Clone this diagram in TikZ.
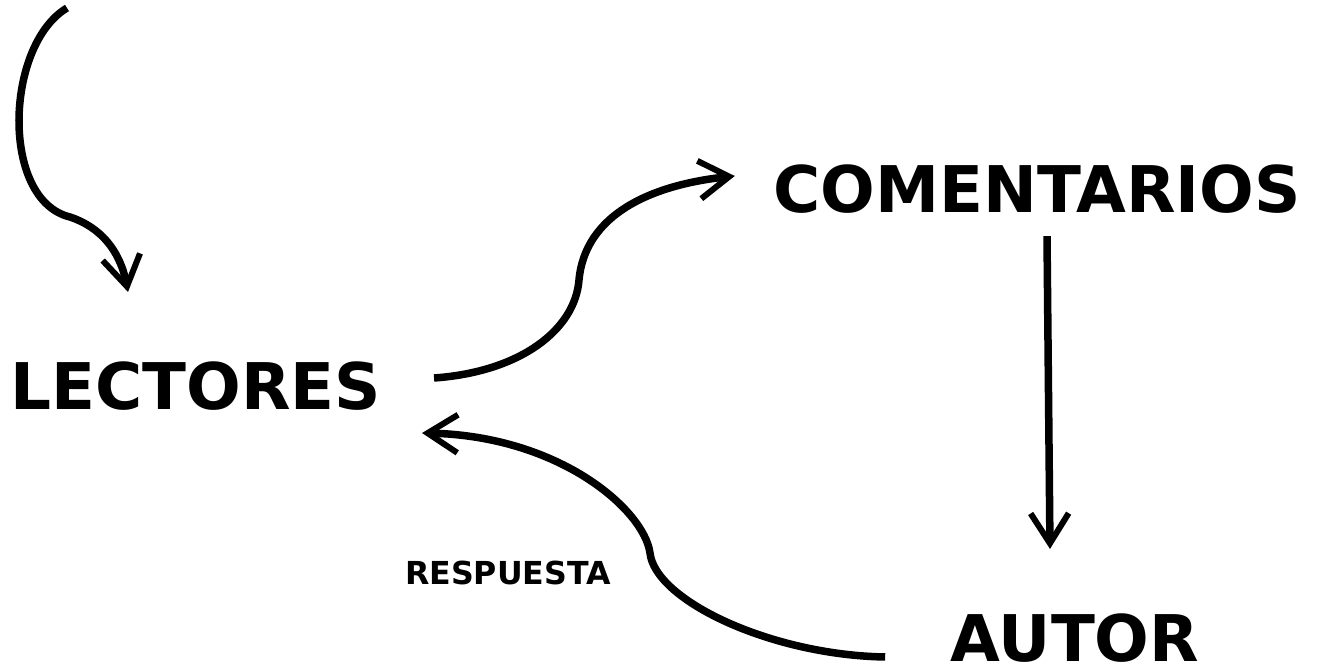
\documentclass[tikz,border=0pt]{standalone}
\usepackage{fontspec}
\setmainfont{DejaVu Sans}
\usetikzlibrary{arrows.meta}

\tikzset{
	flecha/.style={line width=0.075cm,-{Straight Barb[length=0.3cm,width=0.38cm,line width=0.06cm]}}
}

\begin{document}
\begin{tikzpicture}[x=0.01cm,y=-0.01cm]
	\useasboundingbox (0,0) rectangle (1320,670);
	\begin{scope}[every node/.style={inner sep=0pt,font=\fontsize{18.3}{20}\selectfont\bfseries}]
		\node (lect) at (196,386) {LECTORES};
		\node (com) at (1037,189) {COMENTARIOS};
		\node (autor) at (1075,638) {AUTOR};
	\end{scope}
	\node[inner sep=0pt,font=\fontsize{9}{10}\selectfont\bfseries] (resp) at (508,573) {RESPUESTA};
	\coordinate (inicio) at (67,8);
	\begin{scope}
		\draw[flecha] (inicio) .. controls (5,45) and (0,200) .. (70,217)
			.. controls (100,227) and (120,250) .. ([shift={(-68,-69)}]lect.north);
		\draw[flecha] ([shift={(52,-8)}]lect.east) .. controls (520,372) and (575,330) .. (579,280)
			.. controls (585,215) and (650,185) .. ([shift={(-38,-13)}]com.west);
		\draw[flecha] ([shift={(10,22)}]com.south) -- ([shift={(-25,-64)}]autor.north);
		\draw[flecha] ([shift={(-65,19)}]autor.west) .. controls (770,655) and (655,600) .. (650,553)
			.. controls (644,510) and (560,436) .. ([shift={(40,47)}]lect.east);
	\end{scope}
\end{tikzpicture}
\end{document}
